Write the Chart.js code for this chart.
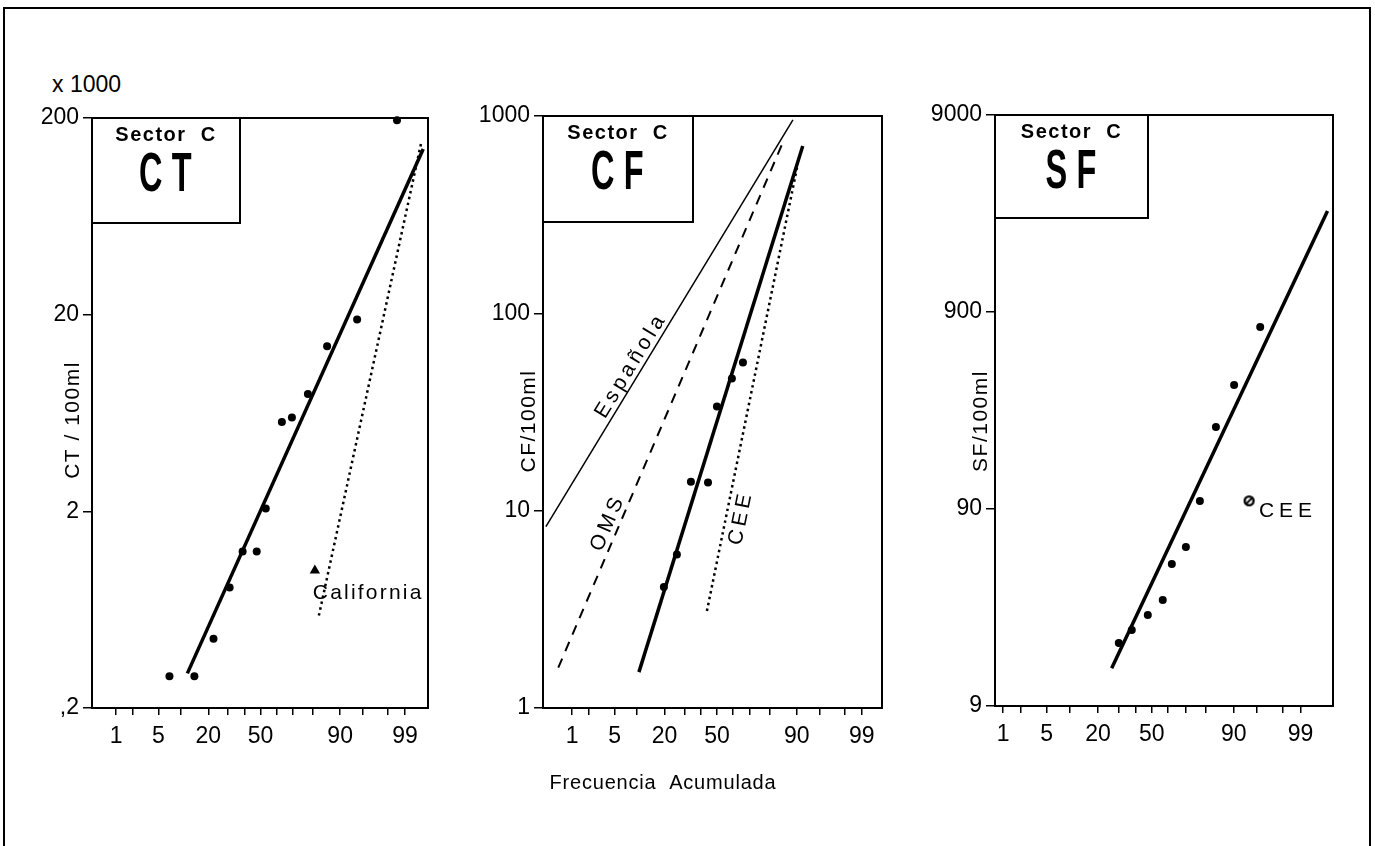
<!DOCTYPE html>
<html>
<head>
<meta charset="utf-8">
<script src="https://cdn.jsdelivr.net/npm/chart.js@4.4.0/dist/chart.umd.min.js"></script>
<style>
  body { margin: 0; background: #fff; width: 1375px; height: 846px; overflow: hidden; position: relative;
         font-family: "Liberation Sans", Arial, sans-serif; color: #000; }
  .frame { position: absolute; left: 3px; top: 7px; width: 1364px; height: 870px; border: 2px solid #000; }
  canvas { position: absolute; top: 100px; }
  #mult { position: absolute; left: 52px; top: 71px; font-size: 23px; }
  #xtitle { position: absolute; left: 463px; width: 400px; top: 771px; text-align: center;
            font-size: 20px; letter-spacing: 0.8px; }
</style>
</head>
<body>
<div class="frame"></div>
<div id="mult">x 1000</div>
<canvas id="ctChart" width="440" height="700" style="left:0px"></canvas>
<canvas id="cfChart" width="440" height="700" style="left:460px"></canvas>
<canvas id="sfChart" width="440" height="700" style="left:910px"></canvas>
<div id="xtitle">Frecuencia &nbsp;Acumulada</div>
<script>
// probability axis (cumulative frequency, %)
const freqTicks = [1, 5, 20, 50, 90, 99];
const minorTicks = [1, 2, 5, 10, 20, 30, 40, 50, 60, 70, 80, 90, 95, 98, 99];

// CT panel (x 1000 / 100ml)
const ctTicks = [0.2, 2, 20, 200];
const ctTickLabels = [',2', '2', '20', '200'];
const ctFreq = [7.1, 14.3, 22.4, 30.9, 38.6, 47.5, 53.3, 63.4, 69.3, 77.7, 85.8, 94.0, 98.6];
const ctValues = [0.29, 0.29, 0.45, 0.82, 1.25, 1.25, 2.07, 5.7, 6.0, 7.9, 13.8, 18.9, 195];
const ctFitFreq = [11.9, 99.56];
const ctFitValues = [0.30, 139];
const californiaFreq = [82.6, 99.52];
const californiaValues = [0.59, 151];
const californiaPointFreq = [80.9];
const californiaPointValues = [1.0];

// CF panel
const cfTicks = [1, 10, 100, 1000];
const cfTickLabels = ['1', '10', '100', '1000'];
const cfFreq = [19.7, 26.0, 33.8, 44.3, 50.0, 59.5, 66.2];
const cfValues = [4.1, 6.0, 14.0, 13.9, 33.7, 46.8, 56.4];
const cfFitFreq = [10.5, 91.6];
const cfFitValues = [1.52, 704];
const espanolaFreq = [0.30, 88.9];
const espanolaValues = [8.3, 955];
const omsFreq = [0.54, 86.2];
const omsValues = [1.6, 773];
const ceeFreq = [43.6, 90.3];
const ceeValues = [3.1, 571];

// SF panel
const sfTicks = [9, 90, 900, 9000];
const sfTickLabels = ['9', '90', '900', '9000'];
const sfFreq = [30.3, 37.7, 47.5, 56.8, 62.3, 70.3, 77.4, 84.2, 90.1, 95.5];
const sfValues = [18.8, 21.9, 26.1, 31.1, 47.3, 57.7, 98.8, 235, 383, 755];
const sfFitFreq = [26.5, 99.70];
const sfFitValues = [14.0, 2930];
const sfCeeFreq = [93.6];
const sfCeeValues = [99];

// inverse normal cdf (Acklam) -> probability paper
function probit(p) {
  const a = [-39.69683028665376, 220.9460984245205, -275.9285104469687, 138.3577518672690, -30.66479806614716, 2.506628277459239];
  const b = [-54.47609879822406, 161.5858368580409, -155.6989798598866, 66.80131188771972, -13.28068155288572];
  const c = [-0.007784894002430293, -0.3223964580411365, -2.400758277161838, -2.549732539343734, 4.374664141464968, 2.938163982698783];
  const d = [0.007784695709041462, 0.3224671290700398, 2.445134137142996, 3.754408661907416];
  const tail = q => (((((c[0]*q+c[1])*q+c[2])*q+c[3])*q+c[4])*q+c[5]) / ((((d[0]*q+d[1])*q+d[2])*q+d[3])*q+1);
  if (p < 0.02425) return tail(Math.sqrt(-2 * Math.log(p)));
  if (p > 1 - 0.02425) return -tail(Math.sqrt(-2 * Math.log(1 - p)));
  const q = p - 0.5, r = q * q;
  return (((((a[0]*r+a[1])*r+a[2])*r+a[3])*r+a[4])*r+a[5])*q / (((((b[0]*r+b[1])*r+b[2])*r+b[3])*r+b[4])*r+1);
}
const z = f => probit(f / 100);
const pts = (freq, vals) => freq.map((f, i) => ({ x: z(f), y: vals[i] }));

const FONT = '"Liberation Sans", Arial, sans-serif';
const tickFont = { family: FONT, size: 23 };

function line(freq, vals, extra) {
  return Object.assign({ data: pts(freq, vals), showLine: true, pointRadius: 0, borderColor: '#000',
    borderWidth: 3.5, clip: false }, extra);
}
function dots(freq, vals) {
  return { data: pts(freq, vals), pointRadius: 4, pointStyle: 'circle', backgroundColor: '#000',
    borderColor: '#000', borderWidth: 0, clip: false };
}
function ceeMarker() {
  const c = document.createElement('canvas');
  c.width = 13; c.height = 13;
  const g = c.getContext('2d');
  g.strokeStyle = '#000'; g.lineWidth = 2.4;
  g.beginPath(); g.arc(6.5, 6.5, 4.4, 0, Math.PI * 2); g.stroke();
  g.lineWidth = 1.8;
  g.beginPath(); g.moveTo(3, 10); g.lineTo(10, 3); g.stroke();
  return c;
}

const decorPlugin = {
  id: 'panelDecor',
  afterDatasetsDraw(chart, args, o) {
    const { ctx, chartArea: a, scales } = chart;
    ctx.save();
    ctx.strokeStyle = '#000';
    ctx.fillStyle = '#000';
    ctx.lineWidth = 2;
    ctx.strokeRect(a.left, a.top, a.right - a.left, a.bottom - a.top);

    // "Sector C" box
    ctx.fillStyle = '#fff';
    ctx.fillRect(a.left, a.top, o.boxW, o.boxH);
    ctx.strokeRect(a.left, a.top, o.boxW, o.boxH);
    ctx.fillStyle = '#000';
    ctx.textAlign = 'center';
    ctx.textBaseline = 'middle';
    ctx.font = 'bold 20px ' + FONT;
    ctx.letterSpacing = '1.5px';
    ctx.fillText('Sector  C', a.left + o.boxW / 2, a.top + 17);
    ctx.save();
    ctx.translate(a.left + o.boxW / 2 + 4, a.top + 58);
    ctx.scale(0.58, 1);
    ctx.font = 'bold 56px "Liberation Sans Narrow", ' + FONT;
    ctx.letterSpacing = '16px';
    ctx.fillText(o.code, 0, 0);
    ctx.restore();

    // y axis title
    ctx.save();
    ctx.translate(a.left + o.titleDx, o.titleY);
    ctx.rotate(-Math.PI / 2);
    ctx.font = '21px ' + FONT;
    ctx.letterSpacing = '1.5px';
    ctx.fillText(o.yTitle, 0, 0);
    ctx.restore();

    // labels on the lines
    (o.notes || []).forEach(n => {
      const px = scales.x.getPixelForValue(z(n.freq));
      const py = scales.y.getPixelForValue(n.value);
      let ang = 0;
      if (n.along !== undefined) {
        const d = chart.data.datasets[n.along].data;
        const x0 = scales.x.getPixelForValue(d[0].x), y0 = scales.y.getPixelForValue(d[0].y);
        const x1 = scales.x.getPixelForValue(d[1].x), y1 = scales.y.getPixelForValue(d[1].y);
        ang = Math.atan2(y1 - y0, x1 - x0);
      }
      ctx.save();
      ctx.translate(px, py);
      ctx.rotate(ang);
      ctx.font = '21px ' + FONT;
      ctx.letterSpacing = n.spacing || '2px';
      ctx.textAlign = n.align || 'center';
      ctx.textBaseline = 'middle';
      ctx.fillText(n.text, 0, 0);
      ctx.restore();
    });
    ctx.restore();
  }
};

function makePanel(id, p) {
  const ctx = document.getElementById(id).getContext('2d');
  return new Chart(ctx, {
    type: 'scatter',
    data: { datasets: p.datasets },
    options: {
      responsive: false,
      animation: false,
      devicePixelRatio: 1,
      layout: { padding: p.padding },
      plugins: { legend: { display: false }, tooltip: { enabled: false }, panelDecor: p.decor },
      scales: {
        x: {
          type: 'linear',
          bounds: 'data',
          min: z(p.xRange[0]),
          max: z(p.xRange[1]),
          afterBuildTicks: s => { s.ticks = minorTicks.map(f => ({ value: z(f) })); },
          afterFit: s => { s.height = p.xHeight; s.paddingLeft = 0; s.paddingRight = 0; },
          ticks: {
            autoSkip: false, maxRotation: 0, padding: 8, color: '#000', font: tickFont,
            callback: (v, i) => freqTicks.includes(minorTicks[i]) ? String(minorTicks[i]) : ''
          },
          grid: { drawOnChartArea: false, tickLength: 7, color: '#000', lineWidth: 1.5 },
          border: { display: false }
        },
        y: {
          type: 'logarithmic',
          min: p.yTicks[0],
          max: p.yTicks[p.yTicks.length - 1],
          afterBuildTicks: s => { s.ticks = p.yTicks.map(v => ({ value: v })); },
          afterFit: s => { s.width = p.yWidth; s.paddingTop = 0; s.paddingBottom = 0; },
          ticks: { padding: 4, color: '#000', font: tickFont, callback: (v, i) => p.yLabels[i] },
          grid: { drawOnChartArea: false, tickLength: 9, color: '#000', lineWidth: 1.5 },
          border: { display: false }
        }
      }
    },
    plugins: [decorPlugin]
  });
}

makePanel('ctChart', {
  xRange: [0.33, 99.65],
  yTicks: ctTicks, yLabels: ctTickLabels,
  padding: { top: 18, right: 12, left: 0, bottom: 0 }, yWidth: 92, xHeight: 92,
  datasets: [
    line(ctFitFreq, ctFitValues),
    line(californiaFreq, californiaValues, { borderWidth: 2.5, borderDash: [2.5, 3.5] }),
    dots(ctFreq, ctValues),
    { data: pts(californiaPointFreq, californiaPointValues), pointStyle: 'triangle', pointRadius: 6,
      backgroundColor: '#000', borderColor: '#000', borderWidth: 0, clip: false }
  ],
  decor: {
    code: 'CT', boxW: 148, boxH: 105, yTitle: 'CT / 100ml', titleDx: -19, titleY: 320,
    notes: [{ text: 'California', freq: 80.0, value: 0.77, align: 'left', spacing: '2.2px' }]
  }
});

makePanel('cfChart', {
  xRange: [0.26, 99.60],
  yTicks: cfTicks, yLabels: cfTickLabels,
  padding: { top: 16, right: 18, left: 0, bottom: 0 }, yWidth: 83, xHeight: 92,
  datasets: [
    line(cfFitFreq, cfFitValues),
    line(espanolaFreq, espanolaValues, { borderWidth: 1.5 }),
    line(omsFreq, omsValues, { borderWidth: 2, borderDash: [10, 8] }),
    line(ceeFreq, ceeValues, { borderWidth: 2.5, borderDash: [2.5, 3.5] }),
    dots(cfFreq, cfValues)
  ],
  decor: {
    code: 'CF', boxW: 150, boxH: 106, yTitle: 'CF/100ml', titleDx: -14, titleY: 321,
    notes: [
      { text: 'Española', freq: 8.4, value: 54.5, along: 1, spacing: '4px' },
      { text: 'OMS', freq: 4.0, value: 8.7, along: 2, spacing: '4px' },
      { text: 'CEE', freq: 65.0, value: 9.2, along: 3, spacing: '4px' }
    ]
  }
});

makePanel('sfChart', {
  xRange: [0.71, 99.77],
  yTicks: sfTicks, yLabels: sfTickLabels,
  padding: { top: 15, right: 17, left: 0, bottom: 0 }, yWidth: 85, xHeight: 94,
  datasets: [
    line(sfFitFreq, sfFitValues),
    dots(sfFreq, sfValues),
    { data: pts(sfCeeFreq, sfCeeValues), pointStyle: ceeMarker(), clip: false }
  ],
  decor: {
    code: 'SF', boxW: 153, boxH: 103, yTitle: 'SF/100ml', titleDx: -14, titleY: 321,
    notes: [{ text: 'CEE', freq: 95.3, value: 88, align: 'left', spacing: '5px' }]
  }
});
</script>
</body>
</html>
